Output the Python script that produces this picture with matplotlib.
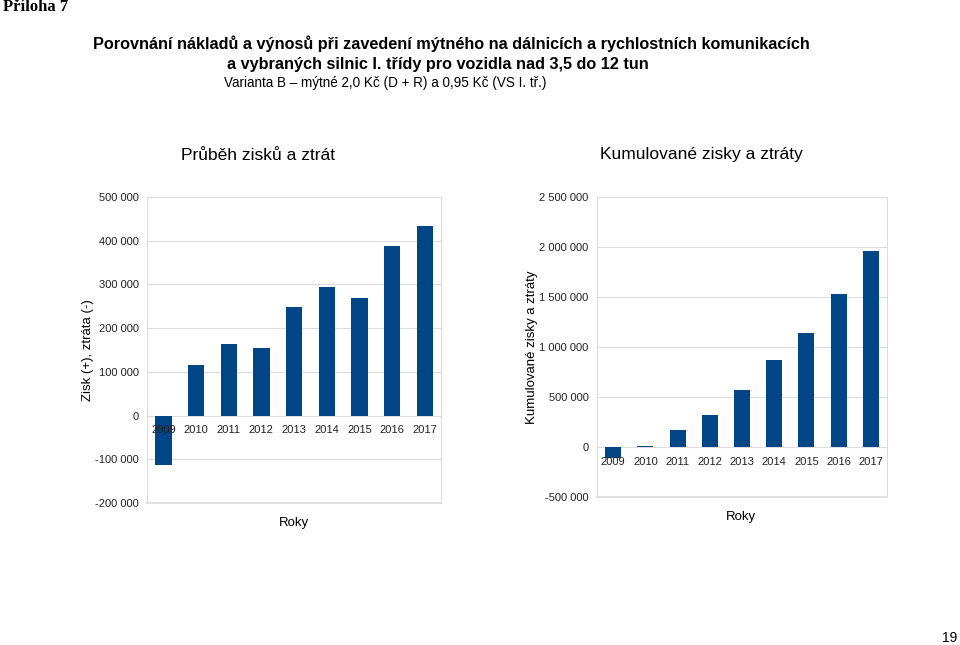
import matplotlib.pyplot as plt
import numpy as np

plt.rcParams['font.family'] = ['Liberation Sans', 'DejaVu Sans']

roky = ['2009', '2010', '2011', '2012', '2013', '2014', '2015', '2016', '2017']
zisk = [-113500, 116000, 163500, 154500, 249500, 294000, 270000, 387500, 434000]
kumul = [-110000, 6000, 166000, 320000, 570000, 866000, 1136000, 1526000, 1960000]

left_ticks = [-200000, -100000, 0, 100000, 200000, 300000, 400000, 500000]
right_ticks = [-500000, 0, 500000, 1000000, 1500000, 2000000, 2500000]

bar_color = '#004586'
grid_color = '#dddddd'
W, H = 960, 645


def fmt(v):
    return f"{v:,}".replace(',', ' ')


fig = plt.figure(figsize=(9.6, 6.45), dpi=100)


def box(x0, y0, x1, y1):
    return [x0 / W, 1 - y1 / H, (x1 - x0) / W, (y1 - y0) / H]


def bar_panel(rect, values, ticks, ylabel, lpad):
    ax = fig.add_axes(rect)
    x = np.arange(len(roky))
    ax.bar(x, values, width=0.5, color=bar_color, zorder=3)
    ax.set_xlim(-0.5, len(roky) - 0.5)
    ax.set_ylim(ticks[0], ticks[-1])
    ax.set_yticks(ticks)
    ax.set_yticklabels([fmt(t) for t in ticks])
    ax.set_xticks(x)
    ax.set_xticklabels(roky)
    ax.spines['bottom'].set_position(('data', 0))
    for s in ax.spines.values():
        s.set_color(grid_color)
        s.set_linewidth(0.8)
    ax.yaxis.grid(True, color=grid_color, linewidth=0.8, zorder=0)
    ax.axhline(ticks[0], color=grid_color, linewidth=1.2, clip_on=False, zorder=0)
    ax.xaxis.set_zorder(5)
    ax.tick_params(length=0, labelsize=8, colors='#222222')
    ax.tick_params(axis='x', pad=7)
    ax.tick_params(axis='y', pad=6)
    ax.set_ylabel(ylabel, fontsize=9.5, labelpad=lpad)
    return ax


axl = bar_panel(box(147, 197, 441, 503), zisk, left_ticks, 'Zisk (+), ztráta (-)', 1)
axr = bar_panel(box(597, 197, 887, 497), kumul, right_ticks, 'Kumulované zisky a ztráty', 1)

fig.text(294 / W, 1 - 523 / H, 'Roky', ha='center', va='center', fontsize=9.5)
fig.text(741 / W, 1 - 517 / H, 'Roky', ha='center', va='center', fontsize=9.5)

fig.text(258 / W, 1 - 155 / H, 'Průběh zisků a ztrát', ha='center', va='center', fontsize=12.5)
fig.text(701 / W, 1 - 155 / H, 'Kumulované zisky a ztráty', ha='center', va='center', fontsize=12.5)

fig.text(3 / W, 1 - 7 / H, 'Příloha 7', ha='left', va='center', fontsize=12,
         fontweight='bold', family='Liberation Serif')
fig.text(451 / W, 1 - 44 / H,
         'Porovnání nákladů a výnosů při zavedení mýtného na dálnicích a rychlostních komunikacích',
         ha='center', va='center', fontsize=11.7, fontweight='bold')
fig.text(438 / W, 1 - 65 / H, 'a vybraných silnic I. třídy pro vozidla nad 3,5 do 12 tun',
         ha='center', va='center', fontsize=11.7, fontweight='bold')
fig.text(385 / W, 1 - 83 / H, 'Varianta B – mýtné 2,0 Kč (D + R) a 0,95 Kč (VS I. tř.)',
         ha='center', va='center', fontsize=9.75)
fig.text(950 / W, 1 - 638 / H, '19', ha='center', va='center', fontsize=10)

fig.savefig('out.png', dpi=100)
